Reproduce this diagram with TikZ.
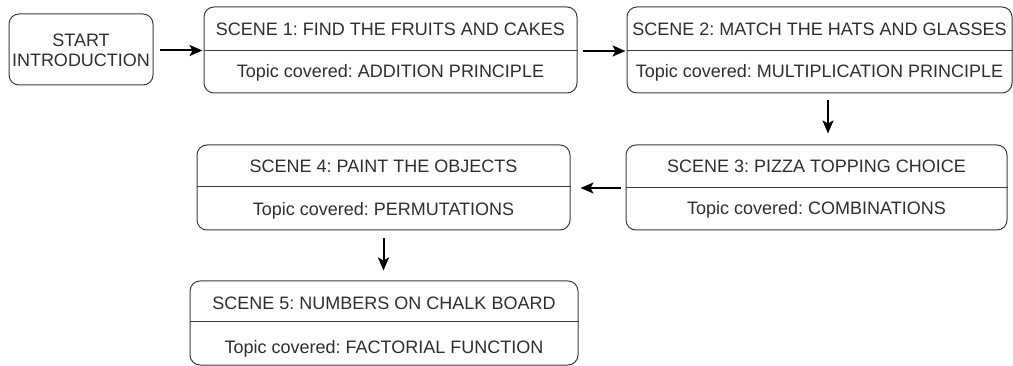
\documentclass[tikz,border=0pt]{standalone}
\usepackage{fontspec}
\setmainfont{Liberation Sans}
\usetikzlibrary{arrows.meta}
\definecolor{boxline}{HTML}{3C3C3C}
\definecolor{txtc}{HTML}{2E2E2E}
\frenchspacing
\begin{document}
\begin{tikzpicture}[x=1pt,y=-1pt,
  scenebox/.style={draw=boxline, line width=1pt, rounded corners=10pt, inner sep=0pt},
  lbl/.style={font=\fontsize{18}{20}\selectfont, text=txtc, inner sep=0pt, align=center},
  divider/.style={draw=boxline, line width=1pt},
  arr/.style={-{Stealth[length=13pt,width=11pt,inset=3pt]}, line width=2pt, black}]
\useasboundingbox (0,0) rectangle (1013,366);
% start
\node[scenebox, minimum width=144pt, minimum height=71pt] (start) at (81,49.5) {};
\node[lbl] (starttxt) at (81,50) {START\\INTRODUCTION};
% scene 1
\node[scenebox, minimum width=373pt, minimum height=86pt] (s1) at (390.5,50) {};
\draw[divider] ([yshift=-1pt]s1.west) -- ([yshift=-1pt]s1.east);
\node[lbl, anchor=base] (s1a) at (390.5,36) {SCENE 1: FIND THE FRUITS AND CAKES};
\node[lbl, anchor=base] (s1b) at (390.5,78) {Topic covered: ADDITION PRINCIPLE};
% scene 2
\node[scenebox, minimum width=385pt, minimum height=86pt] (s2) at (819.5,50) {};
\draw[divider] ([yshift=-1pt]s2.west) -- ([yshift=-1pt]s2.east);
\node[lbl, anchor=base] (s2a) at (819.5,36) {SCENE 2: MATCH THE HATS AND GLASSES};
\node[lbl, anchor=base] (s2b) at (819.5,78) {Topic covered: MULTIPLICATION PRINCIPLE};
% scene 3
\node[scenebox, minimum width=381pt, minimum height=85pt] (s3) at (816.5,187.5) {};
\draw[divider] ([yshift=-0.5pt]s3.west) -- ([yshift=-0.5pt]s3.east);
\node[lbl, anchor=base] (s3a) at (816.5,173) {SCENE 3: PIZZA TOPPING CHOICE};
\node[lbl, anchor=base] (s3b) at (816.5,215) {Topic covered: COMBINATIONS};
% scene 4
\node[scenebox, minimum width=373pt, minimum height=85pt] (s4) at (383.5,187.5) {};
\draw[divider] ([yshift=0.5pt]s4.west) -- ([yshift=0.5pt]s4.east);
\node[lbl, anchor=base] (s4a) at (383.5,173) {SCENE 4: PAINT THE OBJECTS};
\node[lbl, anchor=base] (s4b) at (383.5,216) {Topic covered: PERMUTATIONS};
% scene 5
\node[scenebox, minimum width=388pt, minimum height=84pt] (s5) at (384,323) {};
\draw[divider] ([yshift=1pt]s5.west) -- ([yshift=1pt]s5.east);
\node[lbl, anchor=base] (s5a) at (384,310) {SCENE 5: NUMBERS ON CHALK BOARD};
\node[lbl, anchor=base] (s5b) at (384,353) {Topic covered: FACTORIAL FUNCTION};
% connectors
\draw[arr, shorten <=6pt, shorten >=1pt] ([yshift=-1pt]start.east) -- ([yshift=-1pt]start.east -| s1.west);
\draw[arr, shorten <=5pt, shorten >=1pt] ([yshift=-1pt]s1.east) -- ([yshift=-1pt]s2.west);
\draw[arr, shorten <=7pt, shorten >=11pt] ([xshift=8.5pt]s2.south) -- ([xshift=8.5pt]s2.south |- s3.north);
\draw[arr, shorten <=5pt, shorten >=10pt] ([yshift=-0.5pt]s3.west) -- ([yshift=-0.5pt]s3.west -| s4.east);
\draw[arr, shorten <=8pt, shorten >=10pt] (s4.south) -- (s4.south |- s5.north);
\end{tikzpicture}
\end{document}
